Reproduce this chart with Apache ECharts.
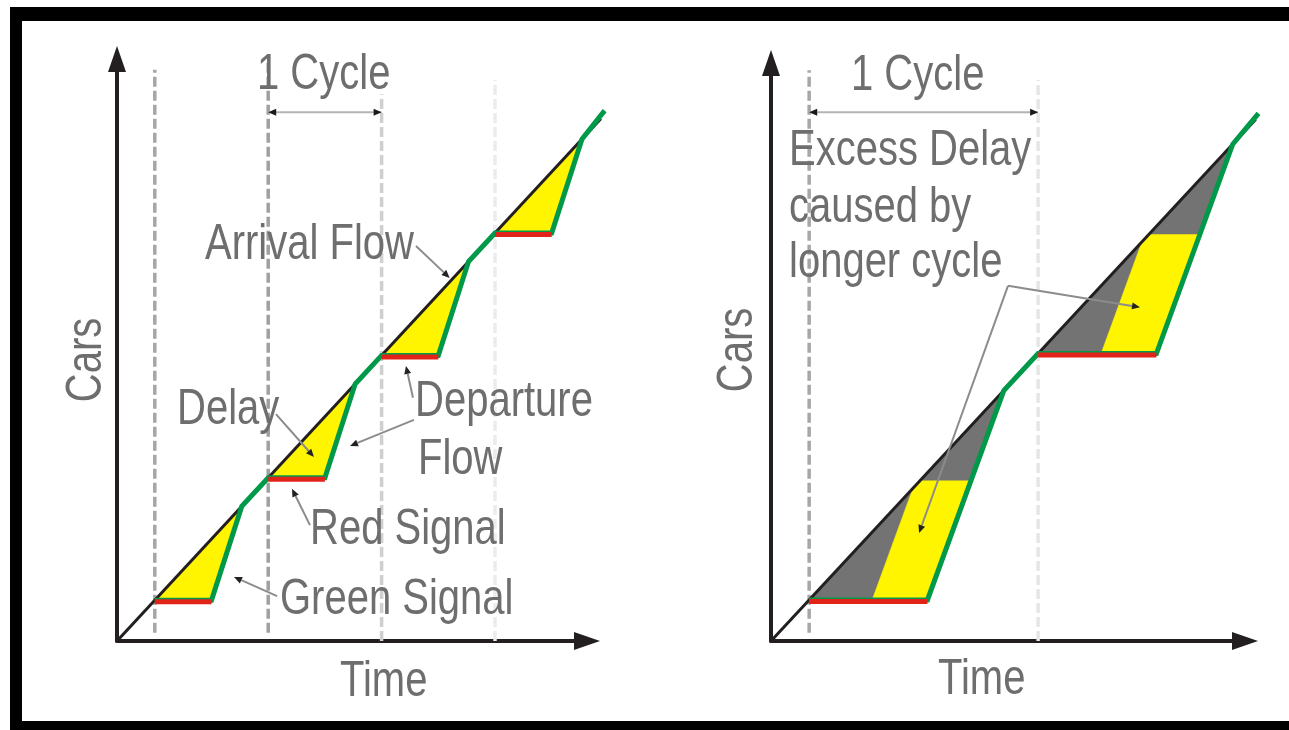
<!DOCTYPE html>
<html><head><meta charset="utf-8">
<script src="https://cdn.jsdelivr.net/npm/echarts@6/dist/echarts.min.js"></script>
<style>html,body{margin:0;padding:0;background:#fff}#c{width:1289px;height:730px}</style>
</head><body><div id="c"></div>
<script>
// ---------------- DATA (time in s, cumulative cars) ----------------
// Left panel: short cycle (60 s, 30 s red)
const leftCycleStarts = [20, 80, 140, 200];
const leftArrival = [[0, 0], [256, 128]];
const leftDeparture = [[20, 10], [50, 10], [66, 33], [80, 40], [110, 40], [126, 63], [140, 70], [170, 70], [186, 93], [200, 100], [230, 100], [246, 123], [258, 130]];
const leftRed = [[20, 50, 10], [80, 110, 40], [140, 170, 70], [200, 230, 100]];   // [start, end, cars]
const leftDelay = [
  [[20, 10], [50, 10], [66, 33]],
  [[80, 40], [110, 40], [126, 63]],
  [[140, 70], [170, 70], [186, 93]],
  [[200, 100], [230, 100], [246, 123]]
];
// Right panel: long cycle (120 s, 62 s red)
const rightCycleStarts = [20, 140];
const rightArrival = [[0, 0], [254, 127]];
const rightDeparture = [[20, 10], [82, 10], [122, 61], [140, 70], [202, 70], [242, 121], [255.5, 128.5]];
const rightRed = [[20, 82, 10], [140, 202, 70]];
const rightExcess = [
  [[20, 10], [82, 10], [122, 61]],
  [[140, 70], [202, 70], [242, 121]]
];
const rightDelay = [
  [[53, 10], [82, 10], [104.7, 39], [78, 39], [74.3, 37.1]],
  [[173, 70], [202, 70], [224.7, 99], [198, 99], [194.3, 97.1]]
];
// Text
const leftTexts = ['1 Cycle', 'Arrival Flow', 'Delay', 'Departure', 'Flow', 'Red Signal', 'Green Signal', 'Time', 'Cars'];
const rightTexts = ['1 Cycle', 'Excess Delay', 'caused by', 'longer cycle', 'Time', 'Cars'];

// ---------------- LAYOUT / STYLE ----------------
const P = [
  {ox: 117, oy: 641, pxT: 1.89, pxN: 4.08, tipX: 600, tipY: 46},
  {ox: 771, oy: 641, pxT: 1.908, pxN: 4.106, tipX: 1258, tipY: 50}
];
const ARW = 13;
P.forEach(p => {
  p.left = p.ox; p.top = p.tipY + ARW;
  p.width = p.tipX - ARW - p.ox; p.height = p.oy - p.top;
  p.xMax = p.width / p.pxT; p.yMax = p.height / p.pxN;
});
const C = {black: '#231f20', green: '#00994a', red: '#e2231a', yellow: '#fff500', gray: '#737373', text: '#6e6e6e', lead: '#8c8c8c', dim: '#b3b3b3'};

const guides = [
  {g: 0, t: leftCycleStarts, top: [140, 143, 134, 137.5], bot: [2, 2, 0, 0], col: ['#a6a6a6', '#a0a0a0', '#cfcfcf', '#ececec']},
  {g: 1, t: rightCycleStarts, top: [139, 136.6], bot: [2, 0], col: ['#a6a6a6', '#e6e6e6']}
];
const dims = [
  {g: 0, from: [leftCycleStarts[1], 129.6], to: [leftCycleStarts[2], 129.6]},
  {g: 1, from: [rightCycleStarts[0], 128.8], to: [rightCycleStarts[1], 128.8]}
];
const leaders = [
  {g: 0, from: [158.2, 96.8], to: [176, 89]},
  {g: 0, from: [84.1, 55.6], to: [104.2, 45.1]},
  {g: 0, from: [157.1, 54.2], to: [123.3, 47.8]},
  {g: 0, from: [156.6, 59.6], to: [152.9, 67.4]},
  {g: 0, from: [102.1, 28.4], to: [92.6, 37.3]},
  {g: 0, from: [84.7, 11], to: [61.9, 15.7]},
  {g: 1, from: [124.2, 86.5], to: [193.4, 81.3]},
  {g: 1, from: [124.2, 86.5], to: [77.6, 26.3]}
];
const textPos = [
  [257, 75], [205, 245], [177, 410], [415, 402], [418, 460], [310, 530], [280, 600], [340, 682], [87, 360, 1],
  [851, 76], [789, 151], [789, 207.5], [789, 262.5], [938, 680], [738, 350, 1]
];

// ---------------- helpers ----------------
function head(tip, from, len, w) {
  const dx = tip[0] - from[0], dy = tip[1] - from[1], L = Math.hypot(dx, dy) || 1;
  const ux = dx / L, uy = dy / L, bx = tip[0] - ux * len, by = tip[1] - uy * len;
  return {pts: [tip, [bx - uy * w / 2, by + ux * w / 2], [bx + uy * w / 2, by - ux * w / 2]], base: [bx, by]};
}
function polySeries(g, polys, color, z) {
  return {type: 'custom', xAxisIndex: g, yAxisIndex: g, z, silent: true, clip: false,
    data: polys.map((p, i) => [i]),
    renderItem: (params, api) => ({type: 'polygon',
      shape: {points: polys[params.dataIndex].map(pt => api.coord(pt))},
      style: {fill: color, stroke: color, lineWidth: 0.5}})};
}
function curveSeries(g, pts, color, width, z) {
  return {type: 'custom', xAxisIndex: g, yAxisIndex: g, z, silent: true, clip: false,
    data: [[0]],
    renderItem: (params, api) => ({type: 'polyline',
      shape: {points: pts.map(pt => api.coord(pt))},
      style: {stroke: color, lineWidth: width, fill: null, lineJoin: 'miter', lineCap: 'butt'}})};
}
function redSeries(g, reds, z) {
  return {type: 'custom', xAxisIndex: g, yAxisIndex: g, z, silent: true, clip: false,
    data: reds.map((r, i) => [i]),
    renderItem: (params, api) => {
      const r = reds[params.dataIndex];
      const a = api.coord([r[0], r[2]]), b = api.coord([r[1], r[2]]);
      return {type: 'line', shape: {x1: a[0], y1: a[1] + 1.5, x2: b[0], y2: b[1] + 1.5}, style: {stroke: C.red, lineWidth: 5}};
    }};
}
function guideSeries(gd) {
  return {type: 'custom', xAxisIndex: gd.g, yAxisIndex: gd.g, z: 1, silent: true, clip: false,
    data: gd.t.map((t, i) => [i]),
    renderItem: (params, api) => {
      const i = params.dataIndex;
      const a = api.coord([gd.t[i], gd.bot[i]]), b = api.coord([gd.t[i], gd.top[i]]);
      return {type: 'line', shape: {x1: a[0], y1: a[1], x2: b[0], y2: b[1]},
        style: {stroke: gd.col[i], lineWidth: 3.5, lineDash: [10, 4]}};
    }};
}
function annoSeries(g) {
  const ds = dims.filter(d => d.g === g), ls = leaders.filter(d => d.g === g);
  return {type: 'custom', xAxisIndex: g, yAxisIndex: g, z: 8, silent: true, clip: false,
    data: [[0]],
    renderItem: (params, api) => {
      const ch = [];
      ds.forEach(d => {
        const a = api.coord(d.from), b = api.coord(d.to);
        ch.push({type: 'line', shape: {x1: a[0], y1: a[1], x2: b[0], y2: b[1]}, style: {stroke: C.dim, lineWidth: 2}});
        [[a, b], [b, a]].forEach(([tip, fr]) => {
          const h = head(tip, fr, 8, 7);
          ch.push({type: 'polygon', shape: {points: h.pts}, style: {fill: '#1a1a1a'}});
        });
      });
      ls.forEach(d => {
        const a = api.coord(d.from), b = api.coord(d.to);
        const h = head(b, a, 8, 7);
        ch.push({type: 'line', shape: {x1: a[0], y1: a[1], x2: h.base[0], y2: h.base[1]}, style: {stroke: C.lead, lineWidth: 2}});
        ch.push({type: 'polygon', shape: {points: h.pts}, style: {fill: '#222'}});
      });
      return {type: 'group', children: ch};
    }};
}
function axisCommon(p, isX, g) {
  return {gridIndex: g, type: 'value', min: 0, max: isX ? p.xMax : p.yMax,
    axisLine: {show: true, onZero: false, symbol: ['none', 'triangle'], symbolSize: [18, 26],
      lineStyle: {color: C.black, width: 4}},
    axisTick: {show: false}, axisLabel: {show: false}, splitLine: {show: false}};
}

// ---------------- option ----------------
const allTexts = leftTexts.concat(rightTexts);
const graphic = [
  {type: 'rect', shape: {x: 10, y: 7, width: 1279, height: 14}, style: {fill: '#000'}, z: 200},
  {type: 'rect', shape: {x: 10, y: 7, width: 12, height: 723}, style: {fill: '#000'}, z: 200},
  {type: 'rect', shape: {x: 10, y: 721, width: 1279, height: 9}, style: {fill: '#000'}, z: 200}
];
allTexts.forEach((t, i) => {
  const pos = textPos[i], rot = !!pos[2];
  graphic.push({type: 'text', x: pos[0], y: pos[1], scaleY: 1.27, rotation: rot ? Math.PI / 2 : 0, z: 100,
    style: {text: t, font: '40px "Liberation Sans", Arial, sans-serif', fill: C.text,
      align: rot ? 'center' : 'left', verticalAlign: 'middle', textAlign: rot ? 'center' : 'left', textVerticalAlign: 'middle'}});
});

const option = {
  animation: false,
  backgroundColor: '#ffffff',
  grid: P.map(p => ({left: p.left, top: p.top, width: p.width, height: p.height, containLabel: false, outerBoundsMode: 'none'})),
  xAxis: P.map((p, g) => axisCommon(p, true, g)),
  yAxis: P.map((p, g) => axisCommon(p, false, g)),
  series: [
    guideSeries(guides[0]), guideSeries(guides[1]),
    polySeries(0, leftDelay, C.yellow, 2),
    polySeries(1, rightExcess, C.gray, 2),
    polySeries(1, rightDelay, C.yellow, 3),
    curveSeries(0, leftArrival, C.black, 3, 4),
    curveSeries(1, rightArrival, C.black, 3, 4),
    curveSeries(0, leftDeparture, C.green, 5, 5),
    curveSeries(1, rightDeparture, C.green, 5, 5),
    redSeries(0, leftRed, 7),
    redSeries(1, rightRed, 7),
    annoSeries(0), annoSeries(1)
  ],
  graphic
};
const chart = echarts.init(document.getElementById('c'), null, {renderer: 'canvas'});
chart.setOption(option);
</script></body></html>
